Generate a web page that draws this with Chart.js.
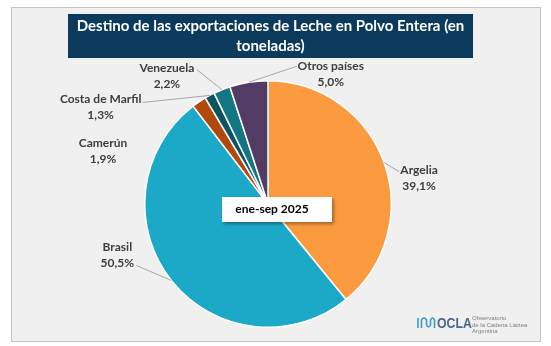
<!DOCTYPE html>
<html><head><meta charset="utf-8">
<script src="https://cdn.jsdelivr.net/npm/chart.js@4.4.1/dist/chart.umd.min.js"></script>
<style>html,body{margin:0;padding:0;background:#fff;}#wrap{position:relative;width:551px;height:346px;}canvas{display:block}</style>
</head><body><div id="wrap"><canvas id="c" width="551" height="346"></canvas></div>
<script>
const categories = ['Argelia', 'Brasil', 'Camerún', 'Costa de Marfil', 'Venezuela', 'Otros países'];
const shares = [39.1, 50.5, 1.9, 1.3, 2.2, 5.0];
const shareLabels = ['39,1%', '50,5%', '1,9%', '1,3%', '2,2%', '5,0%'];
const titleLines = ['Destino de las exportaciones de Leche en Polvo Entera (en', 'toneladas)'];
const periodLabel = 'ene-sep 2025';
const sliceColors = ['#FB9A3F', '#1BA9C7', '#B1490D', '#0D5461', '#137685', '#523B65'];

// label placement (style): text offset and leader end offset from each slice's outer midpoint
const labelStyle = [
  {tx: 35, ty: 8, lx: 15, ly: 9, line: true},
  {tx: -54, ty: -33, lx: -35, ly: -15, line: true},
  {tx: -96, ty: 41, line: false},
  {tx: -109, ty: 4, lx: -67, ly: 7, line: true},
  {tx: -55, ty: -22, lx: -25, ly: -20, line: true},
  {tx: 82, ty: -16, lx: 48, ly: -16, line: true}
];
const FONT = 'Lato, "Open Sans", sans-serif';

const decor = {
  id: 'decor',
  beforeDraw(chart) {
    const ctx = chart.ctx;
    ctx.save();
    ctx.fillStyle = '#ffffff'; ctx.fillRect(0, 0, 551, 346);
    ctx.fillStyle = '#f0f0f0'; ctx.fillRect(11, 7, 530, 335);
    ctx.strokeStyle = '#c6c6c6'; ctx.lineWidth = 1; ctx.strokeRect(11.5, 7.5, 529, 334);
    ctx.fillStyle = '#0B3A5C'; ctx.fillRect(68, 14, 405, 44);
    ctx.fillStyle = '#ffffff'; ctx.font = 'bold 15px ' + FONT;
    ctx.textAlign = 'center'; ctx.textBaseline = 'middle';
    ctx.fillText(titleLines[0], 270.5, 26);
    ctx.fillText(titleLines[1], 270.5, 46);
    ctx.restore();
  },
  afterDatasetsDraw(chart) {
    const ctx = chart.ctx;
    const arcs = chart.getDatasetMeta(0).data;
    ctx.save();
    arcs.forEach((a, i) => {
      const mid = (a.startAngle + a.endAngle) / 2;
      const px = a.x + Math.cos(mid) * a.outerRadius;
      const py = a.y + Math.sin(mid) * a.outerRadius;
      const s = labelStyle[i];
      if (s.line) {
        ctx.strokeStyle = '#a6a6a6'; ctx.lineWidth = 1;
        ctx.beginPath(); ctx.moveTo(px, py); ctx.lineTo(px + s.lx, py + s.ly); ctx.stroke();
      }
      ctx.fillStyle = '#3d3d3d'; ctx.font = 'bold 12px ' + FONT;
      ctx.textAlign = 'center'; ctx.textBaseline = 'middle';
      ctx.fillText(categories[i], px + s.tx, py + s.ty);
      ctx.fillText(shareLabels[i], px + s.tx, py + s.ty + 16);
    });
    // period box
    const cx = arcs[0].x + 9, cy = arcs[0].y + 5.5;
    ctx.shadowColor = 'rgba(0,0,0,0.35)'; ctx.shadowBlur = 3; ctx.shadowOffsetX = 2; ctx.shadowOffsetY = 2;
    ctx.fillStyle = '#ffffff'; ctx.fillRect(cx - 55, cy - 12.5, 110, 25);
    ctx.shadowColor = 'transparent';
    ctx.fillStyle = '#000000'; ctx.font = 'bold 12px ' + FONT;
    ctx.textAlign = 'center'; ctx.textBaseline = 'middle';
    ctx.fillText(periodLabel, cx - 5, cy);
    // logo
    ctx.strokeStyle = '#3A9CC6'; ctx.lineWidth = 1.6; ctx.lineJoin = 'round';
    ctx.beginPath();
    ctx.moveTo(418, 328); ctx.lineTo(418, 318);
    ctx.moveTo(421.5, 328); ctx.lineTo(421.5, 320); ctx.quadraticCurveTo(424, 316, 426.5, 320); ctx.lineTo(426.5, 325);
    ctx.quadraticCurveTo(428.5, 329, 430.5, 325); ctx.lineTo(430.5, 320); ctx.quadraticCurveTo(432.5, 316, 434.5, 320); ctx.lineTo(434.5, 328);
    ctx.stroke();
    ctx.fillStyle = '#4A6886'; ctx.font = 'bold 14px "Liberation Sans", Arial, sans-serif';
    ctx.textAlign = 'left'; ctx.textBaseline = 'alphabetic';
    ctx.save(); ctx.translate(437, 328); ctx.scale(0.88, 1); ctx.fillText('OCLA', 0, 0); ctx.restore();
    ctx.fillStyle = '#808080'; ctx.font = '6px "Liberation Sans", Arial, sans-serif';
    ctx.fillText('Observatorio', 472, 320);
    ctx.fillText('de la Cadena Láctea', 472, 326.5);
    ctx.fillText('Argentina', 472, 333);
    ctx.restore();
  }
};

new Chart(document.getElementById('c'), {
  type: 'pie',
  data: {
    labels: categories,
    datasets: [{ data: shares, backgroundColor: sliceColors, borderColor: '#ffffff', borderWidth: 1.5 }]
  },
  options: {
    responsive: false,
    animation: false,
    layout: { padding: { left: 144, right: 159, top: 80, bottom: 18 } },
    plugins: { legend: { display: false }, tooltip: { enabled: false }, title: { display: false } }
  },
  plugins: [decor]
});
</script>
</body></html>
